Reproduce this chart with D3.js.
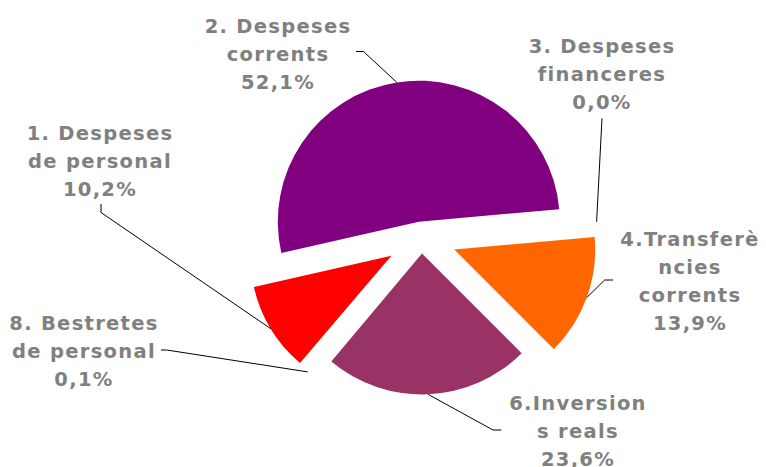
<!DOCTYPE html>
<html>
<head>
<meta charset="utf-8">
<script src="https://cdn.jsdelivr.net/npm/d3@7"></script>
<style>
  body { margin: 0; background: #fff; }
</style>
</head>
<body>
<div id="chart"></div>
<script>
// data
let categories = ["1. Despeses de personal", "2. Despeses corrents", "3. Despeses financeres",
                  "4.Transferències corrents", "6.Inversions reals", "8. Bestretes de personal"];
let labelLines = [["1. Despeses", "de personal"], ["2. Despeses", "corrents"], ["3. Despeses", "financeres"],
                  ["4.Transferè", "ncies", "corrents"], ["6.Inversion", "s reals"], ["8. Bestretes", "de personal"]];
let values = [10.2, 52.1, 0.0, 13.9, 23.6, 0.1];

// styles (the 0,1% slice is too thin to show)
let colors = ["#FF0000", "#800080", "#FFFF00", "#FF6600", "#993366", "none"];
let explode = [35, 16, 35, 35, 16, 35];

let w = 766
let h = 467
let cx = 421.3
let cy = 237.5
let R = 141

// label placement: center x, first baseline, leader start points
let labelPos = [
  {x: 100, y: 140, leader: [[101, 204], [101, 212.5]]},
  {x: 278, y: 32.7, leader: [[356, 51.5], [363.5, 51.5]]},
  {x: 602, y: 53.3, leader: [[602, 118.3]]},
  {x: 690, y: 246, leader: [[613, 280], [604.7, 280]]},
  {x: 578, y: 410, leader: [[501.3, 430], [493, 430]]},
  {x: 84, y: 330, leader: [[161, 350], [166.7, 350]]}
];

let fmt = v => d3.format(".1f")(v).replace(".", ",") + "%";

let viz = d3.select("#chart")
  .append("svg")
    .attr("width", w)
    .attr("height", h)
    .style("background-color", "white");

let pie = d3.pie()
  .sort(null)
  .value(d => d)
  .startAngle(220.4 * Math.PI / 180)
  .endAngle((220.4 + 360) * Math.PI / 180);

let arcs = pie(values);

let arc = d3.arc().innerRadius(0).outerRadius(R);
let edgeArc = d3.arc().innerRadius(R).outerRadius(R);

function offsetOf(d, i) {
  let a = (d.startAngle + d.endAngle) / 2;
  return [Math.sin(a) * explode[i], -Math.cos(a) * explode[i]];
}

let pieG = viz.append("g").attr("transform", "translate(" + cx + "," + cy + ")");

pieG.selectAll("path")
  .data(arcs)
  .enter()
  .append("path")
    .attr("d", arc)
    .attr("fill", (d, i) => colors[i])
    .attr("transform", (d, i) => "translate(" + offsetOf(d, i) + ")")
    .style("display", d => d.value > 0 ? null : "none");

// leader lines
let line = d3.line();
viz.selectAll(".leader")
  .data(arcs)
  .enter()
  .append("path")
    .classed("leader", true)
    .attr("d", (d, i) => {
      let off = offsetOf(d, i);
      let p = edgeArc.centroid(d);
      let end = [cx + off[0] + p[0], cy + off[1] + p[1]];
      return line(labelPos[i].leader.concat([end]));
    })
    .attr("fill", "none")
    .attr("stroke", "black")
    .attr("stroke-width", 1);

// labels
let labels = viz.selectAll(".lbl")
  .data(arcs)
  .enter()
  .append("text")
    .classed("lbl", true)
    .attr("x", (d, i) => labelPos[i].x)
    .attr("y", (d, i) => labelPos[i].y)
    .attr("text-anchor", "middle")
    .attr("fill", "#808080")
    .attr("font-family", "DejaVu Sans, Verdana, sans-serif")
    .attr("font-weight", "bold")
    .attr("font-size", 19.5)
    .attr("letter-spacing", 1.3);

labels.each(function(d, i) {
  let t = d3.select(this);
  let lines = labelLines[i].concat([fmt(values[i])]);
  lines.forEach((s, k) => {
    t.append("tspan")
      .attr("x", labelPos[i].x)
      .attr("dy", k == 0 ? 0 : 28)
      .text(s);
  });
});
</script>
</body>
</html>
